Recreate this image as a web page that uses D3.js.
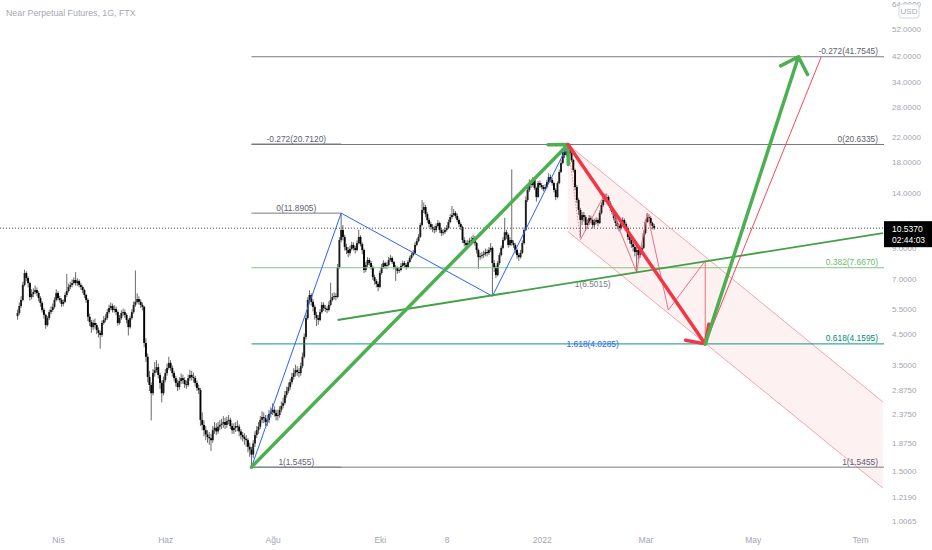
<!DOCTYPE html>
<html>
<head>
<meta charset="utf-8">
<script src="https://cdn.jsdelivr.net/npm/d3@7"></script>
<style>
html, body { margin: 0; padding: 0; background: #fff; }
svg { display: block; }
text { font-family: "Liberation Sans", Arial, sans-serif; }
</style>
</head>
<body>
<div id="chart"></div>
<script>
const SVG_WIDTH = 932;
const SVG_HEIGHT = 550;
const PLOT = { left: 0, right: 884, top: 0, bottom: 530 };

const TITLE = "Near Perpetual Futures, 1G, FTX";

// daily candles, first bar 2021-03-09; open = previous close
const START_DATE = "2021-03-09";
const FIRST_OPEN = 5.20;

const closes = [
    5.33, 5.64, 5.92, 6.68, 7.35, 7.06, 6.78, 6.06, 6.21, 6.31,
    6.41, 6.26, 6.01, 5.78, 5.46, 5.25, 4.84, 5.12, 5.37, 5.46,
    5.60, 5.92, 6.26, 6.01, 5.92, 5.73, 5.83, 6.16, 6.36, 6.57,
    6.68, 6.78, 6.95, 6.78, 6.89, 6.68, 6.57, 6.41, 6.16, 5.92,
    5.17, 4.96, 4.76, 4.92, 4.84, 4.65, 4.54, 4.47, 4.92, 5.04,
    5.12, 5.37, 5.55, 5.64, 5.46, 5.51, 5.37, 4.92, 5.12, 5.33,
    5.37, 5.25, 5.04, 4.76, 5.12, 5.37, 5.69, 5.83, 5.96, 5.83,
    5.69, 5.60, 4.19, 3.75, 3.19, 2.99, 2.80, 3.29, 3.37, 3.45,
    3.24, 3.04, 2.80, 3.11, 3.29, 3.43, 3.57, 3.43, 3.29, 3.16,
    3.04, 2.94, 3.09, 3.16, 3.11, 3.01, 2.99, 3.16, 3.24, 3.19,
    3.16, 3.04, 2.92, 2.87, 2.26, 2.17, 2.08, 2.01, 1.97, 1.95,
    1.92, 2.08, 2.12, 2.06, 2.14, 2.17, 2.19, 2.22, 2.17, 2.24,
    2.26, 2.15, 2.08, 2.12, 2.15, 2.14, 2.06, 2.00, 1.97, 1.94,
    1.92, 1.82, 1.78, 1.71, 1.87, 2.00, 2.08, 2.14, 2.26, 2.31,
    2.29, 2.22, 2.26, 2.37, 2.41, 2.45, 2.39, 2.33, 2.35, 2.45,
    2.53, 2.59, 2.76, 2.85, 2.94, 3.06, 3.19, 3.29, 3.37, 3.32,
    3.29, 3.48, 3.75, 4.40, 5.12, 5.92, 6.16, 5.83, 5.60, 5.25,
    5.12, 5.04, 5.37, 5.69, 5.55, 5.51, 5.46, 5.69, 5.92, 6.06,
    6.11, 6.06, 7.71, 9.58, 10.38, 9.82, 9.06, 8.84, 8.63, 8.92,
    9.21, 8.99, 8.84, 9.35, 9.82, 9.27, 8.84, 7.53, 7.84, 8.16,
    7.96, 7.71, 7.11, 6.89, 6.73, 6.57, 7.35, 7.71, 7.96, 7.78,
    7.84, 8.16, 8.29, 8.03, 7.71, 7.65, 7.47, 7.53, 7.78, 7.96,
    7.84, 7.71, 8.03, 8.29, 8.49, 8.63, 9.21, 9.50, 9.82, 10.81,
    12.19, 12.49, 11.80, 11.25, 10.89, 10.64, 10.46, 10.38, 10.72, 10.98,
    10.38, 10.13, 10.21, 10.38, 10.55, 11.07, 11.52, 11.71, 11.90, 11.62,
    11.25, 10.89, 10.64, 9.58, 9.35, 9.21, 9.35, 9.50, 9.58, 9.74,
    9.35, 8.84, 8.35, 8.42, 8.49, 8.56, 8.70, 8.63, 8.84, 8.99,
    7.96, 7.65, 7.23, 7.96, 8.49, 8.99, 9.58, 10.20, 9.98, 9.21,
    9.58, 9.35, 9.21, 8.84, 8.49, 8.35, 8.63, 9.35, 10.38, 13.21,
    14.32, 15.14, 14.90, 15.51, 14.54, 13.53, 15.14, 14.90, 14.66, 14.42,
    14.66, 15.26, 15.89, 15.51, 15.14, 14.32, 13.53, 15.14, 16.54, 17.78,
    19.42, 18.96, 19.58, 19.74, 19.27, 18.22, 16.81, 14.66, 13.21, 12.19,
    11.25, 11.71, 11.52, 10.81, 10.98, 11.43, 11.25, 10.81, 11.07, 11.25,
    10.98, 11.90, 12.69, 13.21, 13.42, 13.53, 12.89, 12.39, 12.00, 11.43,
    10.98, 10.72, 10.55, 10.89, 11.25, 10.89, 10.55, 9.82, 9.58, 9.27,
    9.06, 8.70, 8.84, 8.49, 8.77, 8.99, 10.13, 11.07, 11.52, 11.43,
    10.98, 10.72, 10.537
];

const highs = [
    5.48, 5.80, 6.10, 6.85, 7.55, 7.45, 7.15, 6.85, 6.45, 6.50,
    6.65, 6.55, 6.35, 6.10, 5.85, 5.55, 5.30, 5.20, 5.48, 5.62,
    5.75, 6.05, 6.45, 6.35, 6.12, 6.00, 5.95, 6.28, 7.30, 6.75,
    6.85, 6.98, 7.10, 7.40, 7.05, 6.98, 6.80, 6.65, 6.48, 6.22,
    6.00, 5.30, 5.05, 5.05, 5.10, 4.92, 4.75, 4.62, 5.02, 5.20,
    5.28, 5.50, 5.70, 5.80, 5.75, 5.68, 5.62, 5.45, 5.25, 5.45,
    5.52, 5.48, 5.32, 5.10, 5.22, 5.50, 5.85, 7.50, 6.25, 6.10,
    5.95, 5.80, 5.65, 4.35, 3.85, 3.35, 3.05, 3.40, 3.60, 3.65,
    3.55, 3.30, 3.10, 3.20, 3.40, 3.55, 3.75, 3.65, 3.50, 3.35,
    3.22, 3.12, 3.18, 3.28, 3.25, 3.18, 3.10, 3.25, 3.38, 3.35,
    3.30, 3.22, 3.10, 3.00, 2.92, 2.40, 2.25, 2.15, 2.08, 2.05,
    2.02, 2.15, 2.22, 2.20, 2.22, 2.26, 2.28, 2.33, 2.30, 2.32,
    2.35, 2.30, 2.20, 2.20, 2.22, 2.25, 2.18, 2.10, 2.05, 2.03,
    2.00, 1.95, 1.88, 1.82, 1.92, 2.06, 2.15, 2.22, 2.33, 2.42,
    2.40, 2.35, 2.35, 2.45, 2.50, 2.58, 2.52, 2.45, 2.45, 2.52,
    2.62, 2.70, 2.85, 2.95, 3.05, 3.15, 3.30, 3.42, 3.52, 3.48,
    3.42, 3.58, 3.88, 4.52, 5.25, 6.05, 6.40, 6.25, 5.95, 5.70,
    5.38, 5.25, 5.50, 5.82, 5.80, 5.68, 5.62, 5.85, 6.80, 6.25,
    6.30, 6.25, 7.90, 9.80, 11.89, 10.80, 10.00, 9.30, 9.05, 9.15,
    9.45, 9.40, 9.15, 9.55, 10.40, 9.95, 9.40, 8.95, 8.05, 8.35,
    8.30, 8.10, 7.80, 7.25, 7.00, 6.85, 7.50, 7.90, 8.15, 8.05,
    8.00, 8.35, 8.50, 8.40, 8.10, 7.85, 7.75, 7.70, 7.95, 8.12,
    8.10, 7.95, 8.15, 8.45, 8.65, 8.85, 9.40, 9.70, 10.05, 11.00,
    13.20, 12.95, 12.70, 12.00, 11.45, 11.10, 10.90, 10.75, 10.95, 11.25,
    11.10, 10.55, 10.45, 10.60, 10.80, 11.30, 11.80, 12.60, 12.30, 12.10,
    11.85, 11.40, 11.05, 10.75, 9.80, 9.55, 9.60, 9.75, 9.85, 10.00,
    9.90, 9.45, 8.95, 8.65, 8.70, 8.80, 8.95, 8.90, 9.05, 9.35,
    9.10, 8.15, 7.80, 8.10, 8.65, 9.15, 9.80, 11.45, 10.40, 10.10,
    9.80, 16.90, 9.55, 9.35, 8.95, 8.65, 8.85, 9.55, 10.60, 13.60,
    14.80, 15.60, 15.45, 15.90, 15.75, 14.70, 15.40, 15.45, 15.15, 14.90,
    15.00, 15.55, 16.40, 16.20, 15.80, 15.30, 14.50, 15.35, 16.85, 18.20,
    19.90, 19.95, 20.10, 20.6335, 20.20, 19.50, 18.40, 17.00, 14.90, 13.40,
    12.40, 12.00, 12.00, 11.70, 11.30, 11.70, 11.65, 11.40, 11.35, 11.50,
    11.40, 12.15, 12.95, 13.60, 13.80, 13.90, 13.70, 13.10, 12.60, 12.15,
    11.60, 11.20, 10.95, 11.15, 11.50, 11.40, 11.05, 10.70, 10.00, 9.75,
    9.45, 9.20, 9.05, 9.00, 8.95, 9.20, 10.35, 11.30, 11.85, 11.80,
    11.60, 11.10, 10.90
];

const lows = [
    5.05, 5.25, 5.55, 5.85, 6.60, 6.90, 6.55, 5.90, 5.95, 6.05,
    6.20, 6.10, 5.85, 5.60, 5.35, 5.10, 4.70, 4.78, 5.05, 5.28,
    5.38, 5.52, 5.85, 5.90, 5.80, 5.60, 5.62, 5.78, 6.05, 6.28,
    6.45, 6.55, 6.70, 6.65, 6.62, 6.55, 6.42, 6.25, 6.02, 5.78,
    5.00, 4.80, 4.55, 4.65, 4.70, 4.50, 4.38, 4.00, 4.40, 4.85,
    4.95, 5.05, 5.30, 5.45, 5.35, 5.35, 5.25, 4.82, 4.85, 5.05,
    5.20, 5.12, 4.90, 4.45, 4.70, 5.05, 5.30, 5.60, 5.75, 5.70,
    5.55, 5.45, 4.05, 3.60, 3.05, 2.85, 2.25, 2.75, 3.20, 3.30,
    3.15, 2.90, 2.60, 2.75, 3.05, 3.22, 3.38, 3.35, 3.20, 3.08,
    2.95, 2.85, 2.88, 3.02, 3.02, 2.92, 2.90, 2.95, 3.10, 3.10,
    3.05, 2.95, 2.85, 2.78, 2.15, 2.08, 1.98, 1.92, 1.88, 1.85,
    1.76, 1.88, 2.02, 2.00, 2.02, 2.08, 2.10, 2.12, 2.10, 2.12,
    2.18, 2.10, 2.02, 2.02, 2.05, 2.06, 1.98, 1.93, 1.90, 1.85,
    1.82, 1.74, 1.68, 1.5455, 1.66, 1.82, 1.95, 2.02, 2.10, 2.20,
    2.20, 2.15, 2.15, 2.20, 2.30, 2.35, 2.32, 2.25, 2.25, 2.30,
    2.40, 2.48, 2.55, 2.70, 2.80, 2.88, 3.00, 3.12, 3.20, 3.22,
    3.18, 3.22, 3.42, 3.70, 4.32, 5.05, 5.80, 5.65, 5.40, 5.05,
    4.80, 4.85, 4.98, 5.30, 5.42, 5.38, 5.32, 5.40, 5.62, 5.85,
    5.95, 5.90, 6.00, 7.60, 9.40, 9.55, 8.80, 8.55, 8.35, 8.45,
    8.80, 8.80, 8.60, 8.75, 9.25, 9.10, 8.55, 7.35, 7.40, 7.70,
    7.80, 7.55, 6.95, 6.70, 6.55, 6.35, 6.50, 7.25, 7.62, 7.60,
    7.60, 7.75, 8.05, 7.90, 7.55, 6.90, 7.30, 7.35, 7.45, 7.70,
    7.70, 7.55, 7.65, 7.95, 8.20, 8.40, 8.55, 9.10, 9.40, 9.75,
    10.70, 11.90, 11.50, 11.00, 10.60, 10.40, 10.20, 10.10, 10.20, 10.60,
    10.15, 9.90, 9.95, 10.05, 10.25, 10.45, 10.95, 11.35, 11.55, 11.40,
    11.05, 10.65, 10.40, 9.35, 9.10, 8.95, 9.05, 9.20, 9.30, 9.45,
    9.15, 8.60, 7.60, 8.15, 8.25, 8.30, 8.40, 8.40, 8.50, 8.70,
    6.10, 7.40, 7.05, 7.15, 7.85, 8.40, 8.90, 9.50, 9.65, 9.00,
    9.10, 9.15, 9.00, 8.60, 8.25, 8.10, 8.25, 8.55, 9.25, 10.30,
    13.00, 14.10, 14.55, 14.70, 14.30, 13.05, 13.45, 14.60, 14.40, 14.15,
    14.25, 14.50, 15.10, 15.25, 14.85, 14.05, 13.20, 13.40, 15.00, 16.40,
    17.60, 18.50, 18.70, 19.20, 18.90, 17.90, 16.50, 14.30, 12.90, 11.70,
    9.80, 10.80, 11.10, 10.30, 10.50, 10.80, 10.95, 10.50, 10.60, 10.90,
    10.70, 10.90, 11.75, 12.50, 13.00, 13.10, 12.60, 12.10, 11.75, 11.20,
    10.70, 10.45, 10.25, 10.35, 10.75, 10.65, 10.30, 9.60, 9.30, 9.00,
    8.75, 8.40, 7.40, 8.20, 8.30, 8.60, 8.90, 10.00, 11.00, 11.10,
    10.75, 10.45, 10.40
];

const LAST_PRICE = 10.537;
const COUNTDOWN = "02:44:03";

const priceTicks = [64, 52, 42, 34, 28, 22, 18, 14, 11, 9, 7, 5.5, 4.5, 3.5, 2.875, 2.375, 1.875, 1.5, 1.219, 1.0065];
const timeTickDates = ["2021-04-01", "2021-06-01", "2021-08-01", "2021-10-01", "2021-11-08", "2022-01-01", "2022-03-01", "2022-05-01", "2022-07-01"];
const timeTickLabels = ["Nis", "Haz", "Ağu", "Eki", "8", "2022", "Mar", "May", "Tem"];

// fib retracement anchored on the July low and the January high (extends right)
const fibRightLevels = ["-0.272", "0", "0.382", "0.618", "1"];
const fibRightPrices = [41.7545, 20.6335, 7.6670, 4.1595, 1.5455];
// fib retracement July low -> September high
const fibLeftLevels = ["-0.272", "0", "1"];
const fibLeftPrices = [20.7120, 11.8905, 1.5455];
// trend extension labels
const extLevels = ["1", "1.618"];
const extPrices = [6.5015, 4.0285];
const EXT_LABEL_DATE = "2022-01-30";

// drawings: [date, price]
const swingBlue = [["2021-07-20", 1.5455], ["2021-09-09", 11.8905], ["2021-12-04", 6.10], ["2022-01-16", 20.6335]];
const greenTrend = [["2021-09-07", 5.04], ["2022-07-14", 10.13]];
const channelUpper = [["2022-01-16", 20.6335], ["2022-07-14", 2.61]];
const channelLower = [["2022-01-16", 10.25], ["2022-07-14", 1.307]];
const pinkPath = [["2022-01-23", 9.6], ["2022-02-06", 13.9], ["2022-02-24", 7.4], ["2022-03-02", 11.9],
    ["2022-03-14", 5.46], ["2022-04-04", 8.1], ["2022-04-04", 4.1595]];
const pinkDotted = [["2022-01-16", 20.6335], ["2022-01-23", 9.6]];
const arrowRally = [["2021-07-20", 1.5455], ["2022-01-16", 20.6335]];
const arrowDrop = [["2022-01-16", 20.6335], ["2022-04-04", 4.1595]];
const arrowTarget = [["2022-04-04", 4.1595], ["2022-05-27", 41.7545]];
const thinRed = [["2022-04-04", 4.1595], ["2022-06-09", 41.7545]];

const parseDay = d3.utcParse("%Y-%m-%d");

const getScales = () => {
    const x = d3.scaleUtc()
        .domain([parseDay("2021-04-01"), parseDay("2022-07-01")])
        .range([58, 860]);
    const y = d3.scaleLog()
        .domain([0.933, 65.86])
        .range([PLOT.bottom, PLOT.top]);
    return { x, y };
};

const buildCandles = () => {
    const first = parseDay(START_DATE);
    return closes.map((c, i) => ({
        date: d3.utcDay.offset(first, i),
        open: i === 0 ? FIRST_OPEN : closes[i - 1],
        high: highs[i],
        low: lows[i],
        close: c
    }));
};

const appendCandles = (g, data, s) => {
    const bw = 1.9;
    g.selectAll(".wick")
        .data(data)
        .enter()
        .append("line")
        .attr("x1", d => s.x(d.date))
        .attr("x2", d => s.x(d.date))
        .attr("y1", d => s.y(d.high))
        .attr("y2", d => s.y(d.low))
        .attr("stroke", "#6a6a6a")
        .attr("stroke-width", 1);

    g.selectAll(".body")
        .data(data)
        .enter()
        .append("rect")
        .attr("x", d => s.x(d.date) - bw / 2)
        .attr("y", d => s.y(Math.max(d.open, d.close)))
        .attr("width", bw)
        .attr("height", d => Math.max(1, Math.abs(s.y(d.open) - s.y(d.close))))
        .attr("fill", d => d.close >= d.open ? "#1e1e1e" : "#000");
};

const appendAxes = (svg, s) => {
    const yAxis = svg.append("g")
        .attr("transform", `translate(${PLOT.right + 8},0)`)
        .call(d3.axisRight(s.y)
            .tickValues(priceTicks)
            .tickFormat(d3.format(".4f"))
            .tickSize(0)
            .tickPadding(0));
    yAxis.select(".domain").remove();
    yAxis.selectAll("text")
        .attr("fill", "#a3a6af")
        .style("font-size", "8px");

    const xAxis = svg.append("g")
        .attr("transform", `translate(0,${PLOT.bottom + 4})`)
        .call(d3.axisBottom(s.x)
            .tickValues(timeTickDates.map(parseDay))
            .tickFormat((d, i) => timeTickLabels[i])
            .tickSize(0));
    xAxis.select(".domain").remove();
    xAxis.selectAll("text")
        .attr("fill", "#a3a6af")
        .style("font-size", "8.5px");

    // currency tag
    const usd = svg.append("g");
    usd.append("rect")
        .attr("x", 899).attr("y", 4).attr("width", 20).attr("height", 14).attr("rx", 3)
        .attr("fill", "#fff").attr("stroke", "#d1d4dc");
    usd.append("text")
        .attr("x", 909).attr("y", 14).attr("text-anchor", "middle")
        .attr("fill", "#a3a6af").style("font-size", "8px")
        .text("USD");
};

const appendLastPrice = (svg, s) => {
    const yp = s.y(LAST_PRICE);
    svg.append("line")
        .attr("x1", PLOT.left).attr("x2", PLOT.right)
        .attr("y1", yp).attr("y2", yp)
        .attr("stroke", "#444").attr("stroke-width", 1)
        .attr("stroke-dasharray", "1,2");
    svg.append("rect")
        .attr("x", PLOT.right).attr("y", yp - 7).attr("width", SVG_WIDTH - PLOT.right).attr("height", 26)
        .attr("fill", "#000");
    svg.append("text")
        .attr("x", PLOT.right + 8).attr("y", yp + 4)
        .attr("fill", "#fff").style("font-size", "8.5px")
        .text(LAST_PRICE.toFixed(4));
    svg.append("text")
        .attr("x", PLOT.right + 8).attr("y", yp + 15)
        .attr("fill", "#fff").style("font-size", "8.5px")
        .text(COUNTDOWN);
};

const appendArrow = (g, pts, s, color, width) => {
    const [x1, y1] = [s.x(parseDay(pts[0][0])), s.y(pts[0][1])];
    const [x2, y2] = [s.x(parseDay(pts[1][0])), s.y(pts[1][1])];
    const back = Math.atan2(y1 - y2, x1 - x2);
    const len = 20;
    const wing = a => [x2 + len * Math.cos(a), y2 + len * Math.sin(a)];
    const w1 = wing(back + Math.PI / 4);
    const w2 = wing(back - Math.PI / 4);
    g.append("path")
        .attr("d", `M${x1},${y1}L${x2},${y2}M${w1[0]},${w1[1]}L${x2},${y2}L${w2[0]},${w2[1]}`)
        .attr("fill", "none")
        .attr("stroke", color)
        .attr("stroke-width", width)
        .attr("stroke-linecap", "round")
        .attr("stroke-linejoin", "round");
};

const appendAnnotations = (g, s) => {
    const line = d3.line()
        .x(d => s.x(parseDay(d[0])))
        .y(d => s.y(d[1]));

    // channel fill and borders
    g.append("path")
        .attr("d", line(channelUpper.concat(channelLower.slice().reverse())) + "Z")
        .attr("fill", "rgba(242,54,69,0.07)");
    [channelUpper, channelLower].forEach(c => {
        g.append("path").attr("d", line(c))
            .attr("fill", "none").attr("stroke", "#f4a3ae").attr("stroke-width", 1);
    });

    // fib right
    const xA = s.x(parseDay(swingBlue[0][0]));
    const xB = s.x(parseDay(swingBlue[1][0]));
    const rightColors = ["#787b86", "#787b86", "#81c784", "#089981", "#787b86"];
    const rightText = ["#5d606b", "#5d606b", "#66bb6a", "#00897b", "#5d606b"];
    fibRightPrices.forEach((p, i) => {
        g.append("line")
            .attr("x1", xA).attr("x2", PLOT.right)
            .attr("y1", s.y(p)).attr("y2", s.y(p))
            .attr("stroke", rightColors[i]).attr("stroke-width", 1);
        g.append("text")
            .attr("x", PLOT.right - 6).attr("y", s.y(p) - 2.5)
            .attr("text-anchor", "end")
            .attr("fill", rightText[i]).style("font-size", "8.4px")
            .text(`${fibRightLevels[i]}(${p.toFixed(4)})`);
    });

    // fib left
    fibLeftPrices.forEach((p, i) => {
        g.append("line")
            .attr("x1", xA).attr("x2", xB)
            .attr("y1", s.y(p)).attr("y2", s.y(p))
            .attr("stroke", "#787b86").attr("stroke-width", 1);
        g.append("text")
            .attr("x", (xA + xB) / 2).attr("y", s.y(p) - 2.5)
            .attr("text-anchor", "middle")
            .attr("fill", "#5d606b").style("font-size", "8.4px")
            .text(`${fibLeftLevels[i]}(${p.toFixed(4)})`);
    });

    // extension labels
    const xe = s.x(parseDay(EXT_LABEL_DATE));
    const extColors = ["#787b86", "#2962ff"];
    extPrices.forEach((p, i) => {
        g.append("text")
            .attr("x", xe).attr("y", s.y(p) - 1)
            .attr("text-anchor", "middle")
            .attr("fill", extColors[i]).style("font-size", "8.4px")
            .text(`${extLevels[i]}(${p.toFixed(4)})`);
    });

    // blue swing
    g.append("path").attr("d", line(swingBlue))
        .attr("fill", "none").attr("stroke", "#2962ff").attr("stroke-width", 1);

    // pink zigzag
    g.append("path").attr("d", line(pinkDotted))
        .attr("fill", "none").attr("stroke", "#e88b97").attr("stroke-width", 1)
        .attr("stroke-dasharray", "1.5,1.5");
    g.append("path").attr("d", line(pinkPath))
        .attr("fill", "none").attr("stroke", "#ee6f80").attr("stroke-width", 1);

    // rising trend
    g.append("path").attr("d", line(greenTrend))
        .attr("fill", "none").attr("stroke", "#43a047").attr("stroke-width", 1.8);

    g.append("path").attr("d", line(thinRed))
        .attr("fill", "none").attr("stroke", "#f2495a").attr("stroke-width", 1);

    appendArrow(g, arrowRally, s, "#4caf50", 3.5);
    appendArrow(g, arrowDrop, s, "#f23645", 3.5);
    appendArrow(g, arrowTarget, s, "#4caf50", 3.5);
};

const drawChart = (containerId) => {
    const container = d3.select("#" + containerId);
    container.html("");

    const svg = container.append("svg")
        .attr("width", SVG_WIDTH)
        .attr("height", SVG_HEIGHT);

    svg.append("defs").append("clipPath").attr("id", "plot-clip")
        .append("rect")
        .attr("x", PLOT.left).attr("y", PLOT.top)
        .attr("width", PLOT.right - PLOT.left).attr("height", PLOT.bottom - PLOT.top);

    const scales = getScales();
    const data = buildCandles();

    const plot = svg.append("g").attr("clip-path", "url(#plot-clip)");
    appendCandles(plot, data, scales);

    appendAxes(svg, scales);
    appendLastPrice(svg, scales);

    const draw = svg.append("g").attr("clip-path", "url(#plot-clip)");
    appendAnnotations(draw, scales);

    svg.append("text")
        .attr("x", 6).attr("y", 16)
        .attr("fill", "#a6a9b0")
        .style("font-size", "8.8px")
        .text(TITLE);
};

drawChart("chart");
</script>
</body>
</html>
